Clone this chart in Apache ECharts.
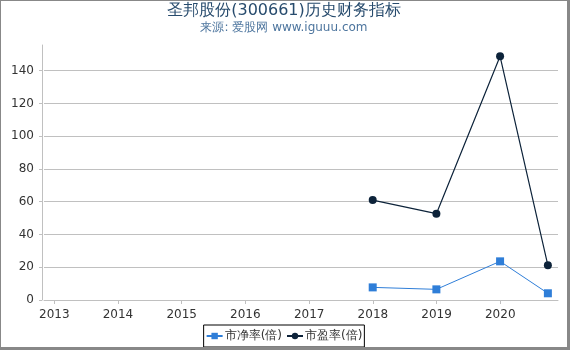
<!DOCTYPE html>
<html>
<head>
<meta charset="utf-8">
<script src="https://cdn.jsdelivr.net/npm/echarts@6/dist/echarts.min.js"></script>
<style>
html,body{margin:0;padding:0;background:#fff;}
#wrap{width:570px;height:350px;box-sizing:border-box;border-left:1px solid #888;border-top:1px solid #888;border-right:3px solid #888;border-bottom:3px solid #888;}
#c{width:566px;height:346px;}
</style>
</head>
<body>
<div id="wrap"><div id="c"></div></div>
<script>
const dates = ['2017-12-31', '2018-12-31', '2019-12-31', '2020-09-30'];
const pbValues = [7.7, 6.5, 23.6, 4.1];
const peValues = [61.0, 52.7, 148.8, 21.2];
const seriesNames = ['市净率(倍)', '市盈率(倍)'];
const titleText = '圣邦股份(300661)历史财务指标';
const subText = '来源: 爱股网 www.iguuu.com';
const xMin = '2012-11-03';
const xMax = '2020-11-27';

const font = 'DejaVu Sans, Verdana, Arial, sans-serif';
const chart = echarts.init(document.getElementById('c'));
const year = 365 * 24 * 3600 * 1000;
chart.setOption({
  animation: false,
  textStyle: { fontFamily: font },
  title: {
    text: titleText,
    subtext: subText,
    left: 'center',
    top: 1,
    itemGap: 3,
    padding: [1, 5, 5, 5],
    textStyle: { fontSize: 16, fontWeight: 'normal', color: '#274b6d', fontFamily: font },
    subtextStyle: { fontSize: 12, color: '#4d759e', fontFamily: font }
  },
  grid: { left: 43, right: 9, top: 44, bottom: 47, containLabel: false },
  legend: {
    data: seriesNames,
    bottom: 0,
    left: 'center',
    borderColor: '#000',
    borderWidth: 1,
    borderRadius: 0,
    padding: [5, 2, 5, 2],
    itemGap: 4,
    itemWidth: 16,
    itemHeight: 8,
    textStyle: { fontSize: 12, color: '#333', fontFamily: font, padding: [0, 0, 0, -3] }
  },
  xAxis: {
    type: 'time',
    min: xMin,
    max: xMax,
    offset: 4,
    minInterval: year,
    maxInterval: year,
    splitNumber: 8,
    axisLine: { lineStyle: { color: '#C0C0C0', width: 1 } },
    axisTick: { show: true, length: 4, lineStyle: { color: '#C0C0C0' } },
    axisLabel: {
      formatter: '{yyyy}',
      color: '#333',
      fontSize: 12,
      margin: 5,
      showMinLabel: false,
      showMaxLabel: false,
      hideOverlap: false
    },
    splitLine: { show: false }
  },
  yAxis: {
    type: 'value',
    min: 0,
    max: 155.7,
    interval: 20,
    offset: 2,
    axisLine: { show: true, lineStyle: { color: '#C0C0C0', width: 1 } },
    axisTick: { show: true, length: 3, lineStyle: { color: '#C0C0C0' } },
    axisLabel: { color: '#333', fontSize: 12, margin: 8, showMaxLabel: false },
    splitLine: { show: true, showMaxLine: false, showMinLine: false, lineStyle: { color: '#C0C0C0', width: 1 } }
  },
  series: [
    {
      name: seriesNames[0],
      type: 'line',
      data: dates.map((d, i) => [d, pbValues[i]]),
      symbol: 'rect',
      symbolSize: 8,
      color: '#2f7ed8',
      lineStyle: { width: 1, color: '#2f7ed8' },
      itemStyle: { color: '#2f7ed8' }
    },
    {
      name: seriesNames[1],
      type: 'line',
      data: dates.map((d, i) => [d, peValues[i]]),
      symbol: 'circle',
      symbolSize: 8,
      color: '#0d233a',
      lineStyle: { width: 1.2, color: '#0d233a' },
      itemStyle: { color: '#0d233a' }
    }
  ]
});
</script>
</body>
</html>
